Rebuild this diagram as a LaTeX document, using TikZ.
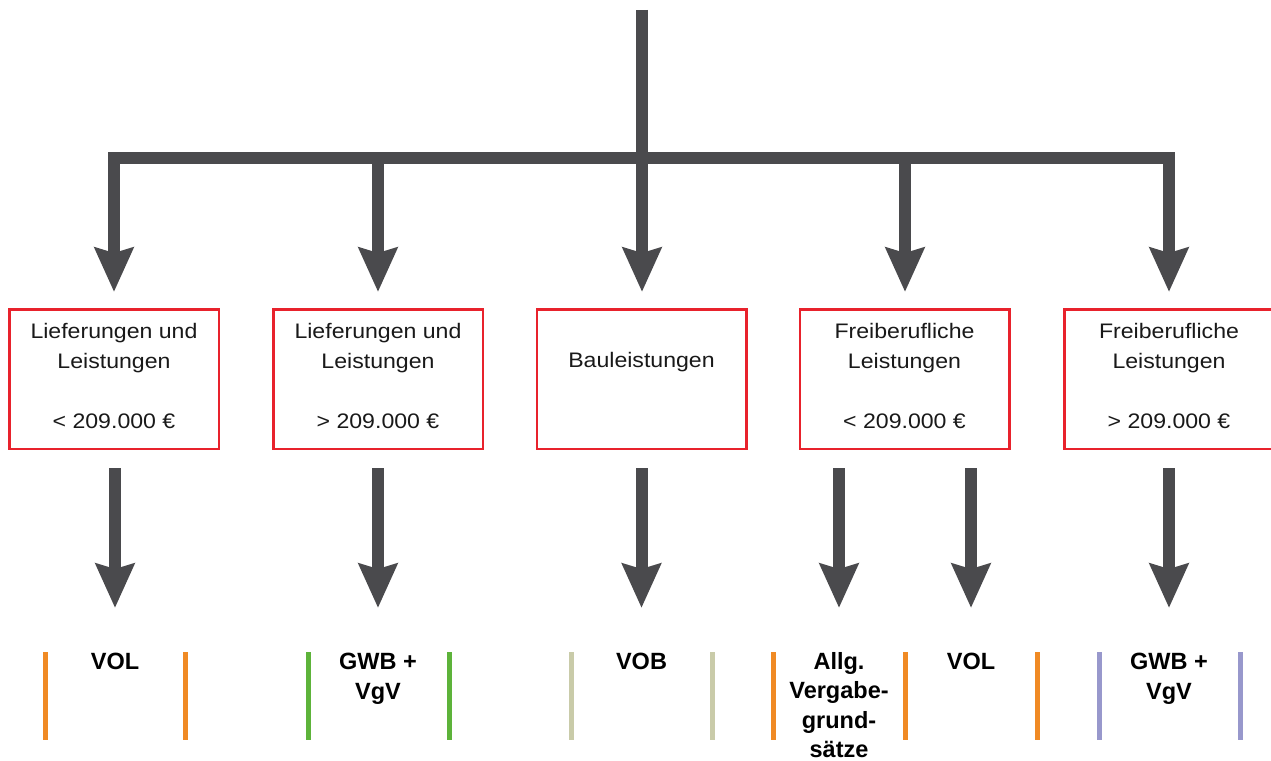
\documentclass[tikz,border=0pt]{standalone}
\usepackage{fontspec}
\setmainfont{Liberation Sans}
\newfontfamily\boxfont[FakeStretch=1.1]{Liberation Sans}
\usetikzlibrary{arrows.meta}
\definecolor{shaftgray}{HTML}{4A4A4D}
\definecolor{boxred}{HTML}{E8222C}
\definecolor{lorange}{HTML}{F08A24}
\definecolor{lgreen}{HTML}{5DB33A}
\definecolor{lbeige}{HTML}{C9CBA9}
\definecolor{lpurple}{HTML}{9898CC}
\newcommand{\lowpad}{\rule[-7pt]{0pt}{7pt}}
\tikzset{
  shaft/.style={draw=shaftgray, line width=12pt},
  arrowshaft/.style={shaft, -{Stealth[length=44pt,width=38pt,inset=5pt]}},
  catbox/.style={draw=boxred, line width=2.5pt, minimum width=209.5pt, minimum height=139.5pt,
    inner sep=0pt, align=center, text=black!90, font={\boxfont\fontsize{21}{30}\selectfont}},
  lawtext/.style={anchor=north, inner sep=0pt, align=center, font={\bfseries\fontsize{23.5}{29.5}\selectfont}},
  legbar/.style={line width=5pt}
}
\begin{document}
\begin{tikzpicture}[x=1pt,y=-1pt]
\useasboundingbox (0,0) rectangle (1271,760);
\clip (0,0) rectangle (1271,760);

% boxes
\node[catbox] (b1) at (114,379) {Lieferungen und\\Leistungen\\[30pt]< 209.000 €\lowpad};
\node[catbox] (b2) at (378,379) {Lieferungen und\\Leistungen\\[30pt]> 209.000 €\lowpad};
\node[catbox] (b3) at (641.5,379) {\phantom{L}\\Bauleistungen\\[30pt]\phantom{2}\lowpad};
\node[catbox] (b4) at (904.5,379) {Freiberufliche\\Leistungen\\[30pt]< 209.000 €\lowpad};
\node[catbox] (b5) at (1169,379) {Freiberufliche\\Leistungen\\[30pt]> 209.000 €\lowpad};

% bottom texts
\node[lawtext] (t1) at (115,653) {VOL};
\node[lawtext] (t2) at (378,653) {GWB +\\VgV};
\node[lawtext] (t3) at (641.5,653) {VOB};
\node[lawtext] (t4) at (839,652) {Allg.\\Vergabe-\\grund-\\sätze};
\node[lawtext] (t5) at (971,653) {VOL};
\node[lawtext] (t6) at (1169,653) {GWB +\\VgV};

% top tree
\coordinate (top) at (642,10);
\coordinate (hub) at (642,157.5);
\coordinate (h1) at (114,157.5);
\coordinate (h2) at (378,157.5);
\coordinate (h4) at (905,157.5);
\coordinate (h5) at (1169,157.5);
\draw[shaft] (top) -- (hub);
\draw[shaft, line cap=rect] (h1) -- (h5);
\draw[arrowshaft, shorten >=16pt] (h1) -- (h1 |- b1.north);
\draw[arrowshaft, shorten >=16pt] (h2) -- (h2 |- b2.north);
\draw[arrowshaft, shorten >=16pt] (hub) -- (hub |- b3.north);
\draw[arrowshaft, shorten >=16pt] (h4) -- (h4 |- b4.north);
\draw[arrowshaft, shorten >=16pt] (h5) -- (h5 |- b5.north);

% lower arrows
\draw[arrowshaft, shorten <=18pt, shorten >=45pt] (b1.south -| t1.north) -- (t1.north);
\draw[arrowshaft, shorten <=18pt, shorten >=45pt] (b2.south -| t2.north) -- (t2.north);
\draw[arrowshaft, shorten <=18pt, shorten >=45pt] (b3.south -| t3.north) -- (t3.north);
\draw[arrowshaft, shorten <=18pt, shorten >=44pt] (b4.south -| t4.north) -- (t4.north);
\draw[arrowshaft, shorten <=18pt, shorten >=45pt] (b4.south -| t5.north) -- (t5.north);
\draw[arrowshaft, shorten <=18pt, shorten >=45pt] (b5.south -| t6.north) -- (t6.north);

% coloured bars
\draw[legbar, lorange] (45,652) -- (45,740);
\draw[legbar, lorange] (185,652) -- (185,740);
\draw[legbar, lgreen] (308,652) -- (308,740);
\draw[legbar, lgreen] (449.5,652) -- (449.5,740);
\draw[legbar, lbeige] (571.5,652) -- (571.5,740);
\draw[legbar, lbeige] (712.5,652) -- (712.5,740);
\draw[legbar, lorange] (773.5,652) -- (773.5,740);
\draw[legbar, lorange] (905.5,652) -- (905.5,740);
\draw[legbar, lorange] (1037,652) -- (1037,740);
\draw[legbar, lpurple] (1099,652) -- (1099,740);
\draw[legbar, lpurple] (1240,652) -- (1240,740);
\end{tikzpicture}
\end{document}
